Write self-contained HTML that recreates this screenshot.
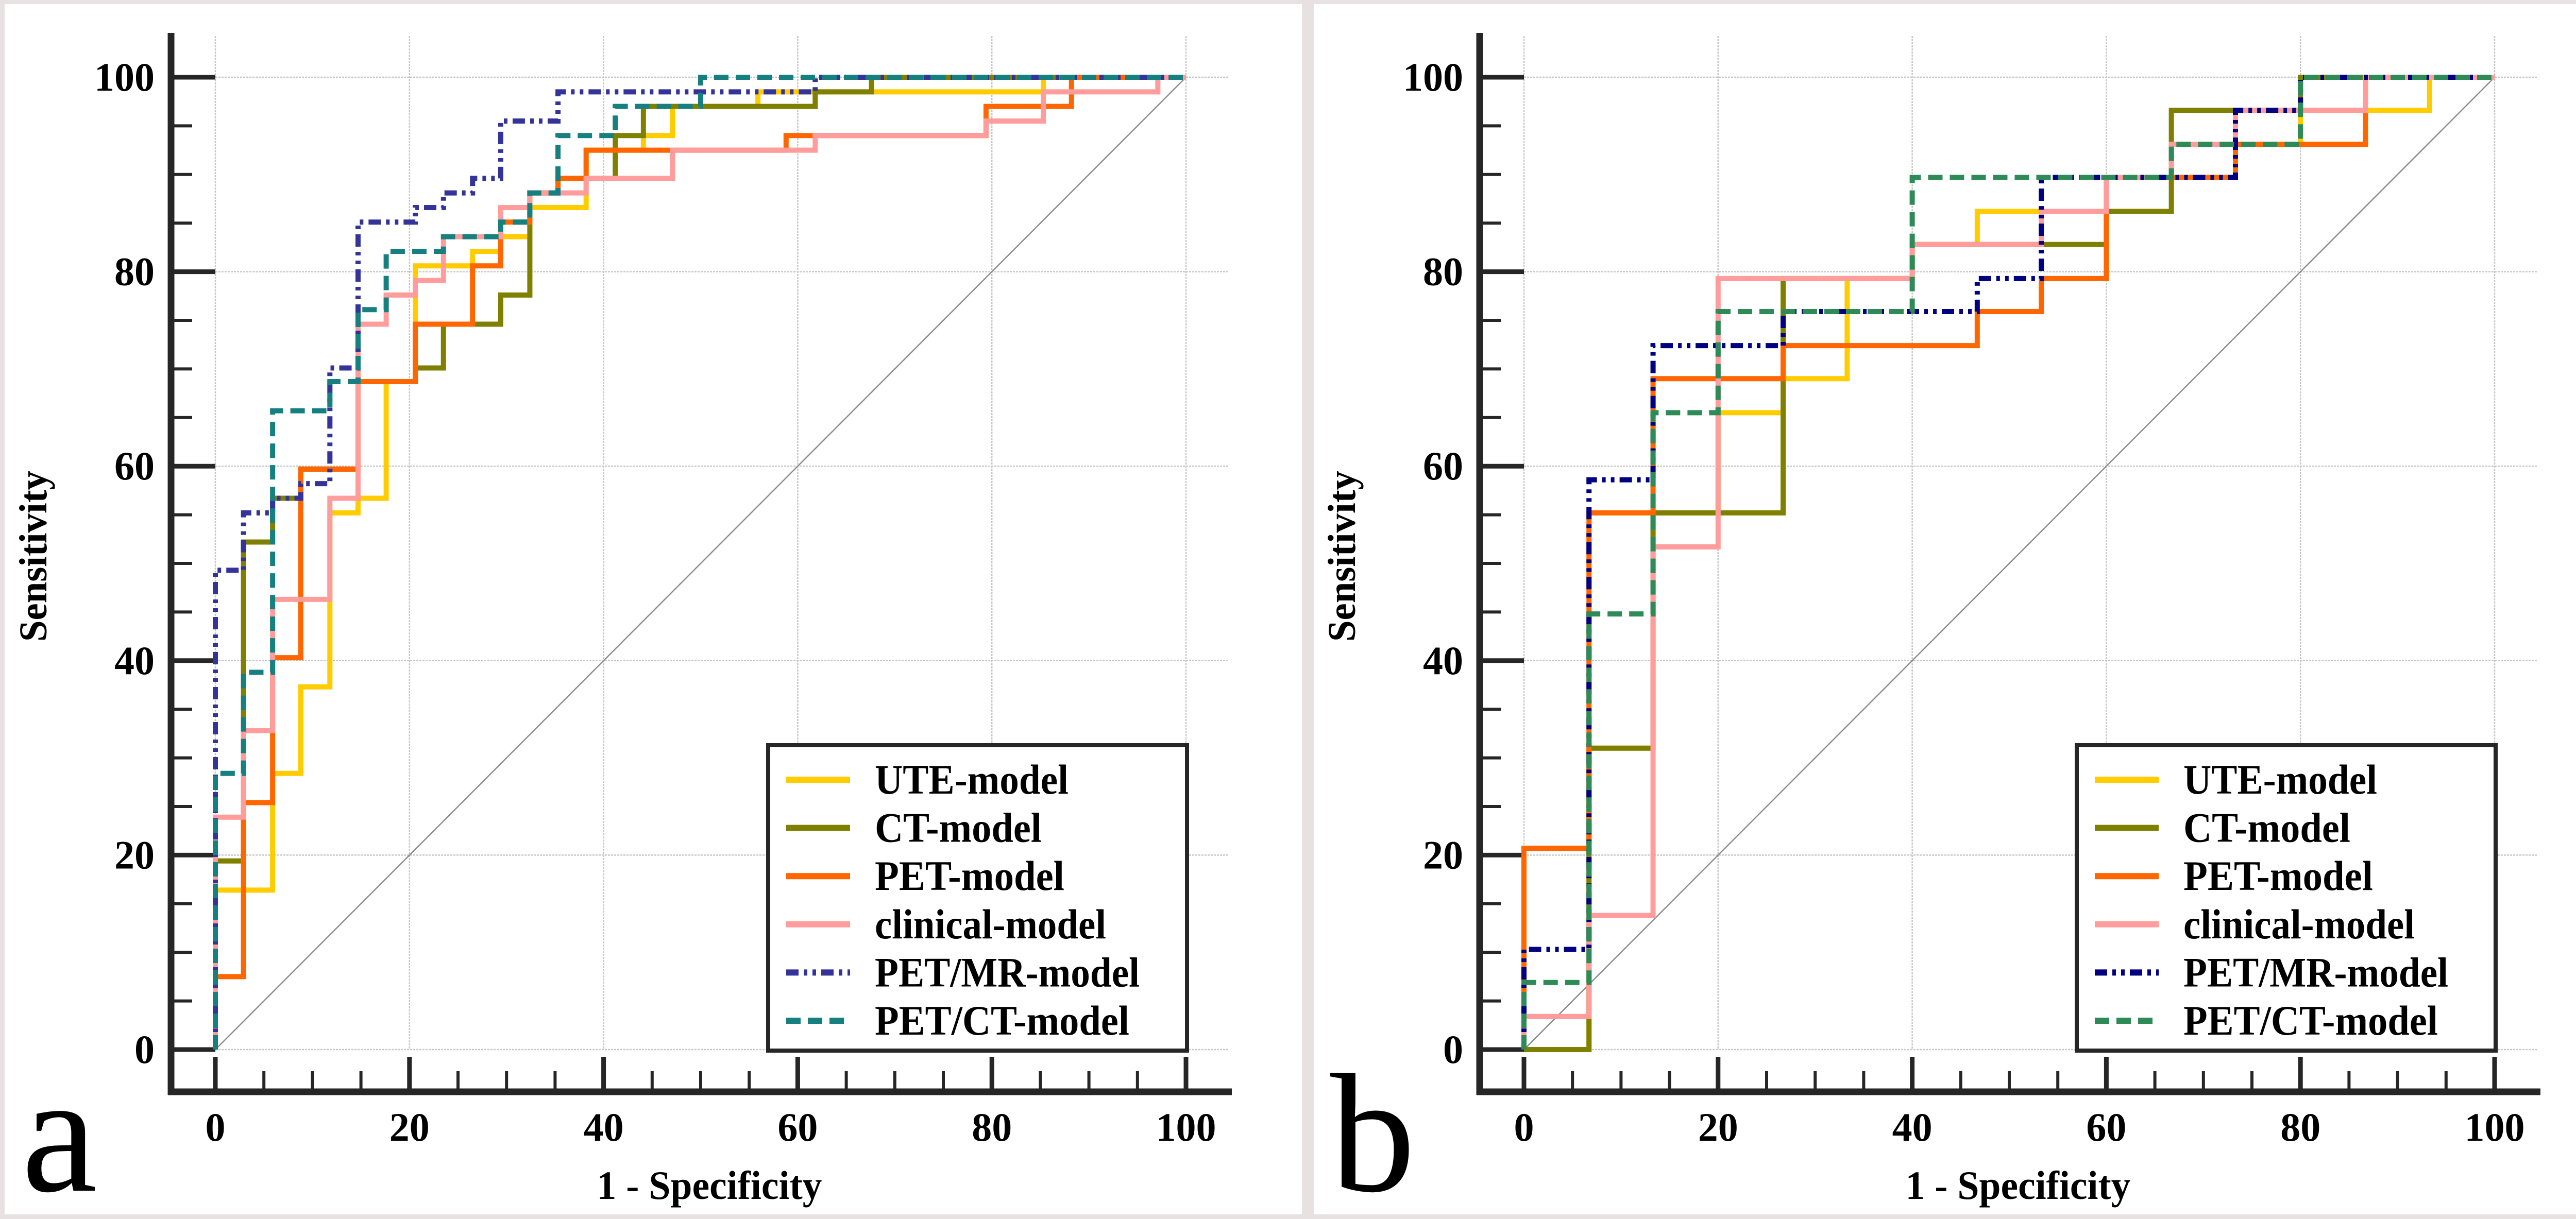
<!DOCTYPE html>
<html><head><meta charset="utf-8"><style>
html,body{margin:0;padding:0;background:#e8e1e2;overflow:hidden;}
svg{display:block;}
svg text{font-family:"Liberation Serif","Times New Roman","DejaVu Serif",serif !important;fill:#000;}
</style></head><body>
<svg id="fig" width="5084" height="2367" viewBox="0 0 5084 2367" xmlns="http://www.w3.org/2000/svg">
<rect x="0" y="0" width="5084" height="2367" fill="#e8e1e2"/>
<rect x="9" y="8" width="2518" height="2350" fill="#fff"/>
<rect x="2550" y="8" width="2526" height="2350" fill="#fff"/>
</svg>
<script>
// ---- Panel a data ----
const aUteF=[0,0,5.9,8.8,11.8,14.7,17.6,20.6,26.5,29.4,32.4,38.2,44.1,47.1,55.9,85.3,100];
const aUteT=[0,16.4,28.4,37.3,55.2,56.7,68.7,80.6,82.1,83.6,86.6,92.5,94,97,98.5,100,100];
const aCtF=[0,0,2.9,5.9,8.8,14.7,20.6,23.5,29.4,32.4,35.3,41.2,44.1,61.8,67.6,100];
const aCtT=[0,19.4,52.2,56.7,59.7,68.7,70.1,74.6,77.6,88.1,89.6,94,97,98.5,100,100];
const aPetF=[0,0,2.9,5.9,8.8,14.7,20.6,26.5,29.4,32.4,35.3,38.2,58.8,79.4,88.2,100];
const aPetT=[0,7.5,25.4,40.3,59.7,68.7,74.6,80.6,85.1,88.1,89.6,92.5,94,97,100,100];
const aCliF=[0,0,2.9,5.9,11.8,14.7,17.6,20.6,23.5,29.4,32.4,38.2,47.1,61.8,79.4,85.3,97.1,100];
const aCliT=[0,23.9,32.8,46.3,56.7,74.6,77.6,79.1,83.6,86.6,88.1,89.6,92.5,94,95.5,98.5,100,100];
const aMrF=[0,0,2.9,5.9,8.8,11.8,14.7,20.6,23.5,26.5,29.4,35.3,61.8,100];
const aMrT=[0,49.3,55.2,56.7,58.2,70.1,85.1,86.6,88.1,89.6,95.5,98.5,100,100];
const aPctF=[0,0,2.9,5.9,11.8,14.7,17.6,23.5,29.4,32.4,35.3,41.2,50,100];
const aPctT=[0,28.4,38.8,65.7,68.7,76.1,82.1,83.6,85.1,88.1,94,97,100,100];
// ---- Panel b data ----
const bUteF=[0,6.7,13.3,20,26.7,33.3,40,46.7,60,66.7,80,93.3,100];
const bUteT=[0,31,55.2,65.5,69,79.3,82.8,86.2,89.7,93.1,96.6,100,100];
const bCtF=[0,6.7,13.3,26.7,40,60,66.7,80,100];
const bCtT=[0,31,55.2,79.3,82.8,86.2,96.6,100,100];
const bPetF=[0,0,6.7,13.3,26.7,46.7,53.3,60,73.3,86.7,100];
const bPetT=[0,20.7,55.2,69,72.4,75.9,79.3,89.7,93.1,100,100];
const bCliF=[0,0,6.7,13.3,20,40,53.3,60,66.7,73.3,86.7,100];
const bCliT=[0,3.4,13.8,51.7,79.3,82.8,86.2,89.7,93.1,96.6,100,100];
const bMrF=[0,0,6.7,13.3,26.7,46.7,53.3,73.3,80,100];
const bMrT=[0,10.3,58.6,72.4,75.9,79.3,89.7,96.6,100,100];
const bPctF=[0,0,6.7,13.3,20,40,66.7,80,100];
const bPctT=[0,6.9,44.8,65.5,75.9,89.7,93.1,100,100];
// ---- shared labels ----
const tickLabels=["0","20","40","60","80","100"];
const tickValues=[0,20,40,60,80,100];
const legendNames=["UTE-model","CT-model","PET-model","clinical-model","PET/MR-model","PET/CT-model"];
const legendTextWidths=[376,324,368,449,514,494];

const NS="http://www.w3.org/2000/svg";
const svg=document.getElementById('fig');
const FF='font-family:"Liberation Serif","Times New Roman",serif;';
function el(tag,attrs,parent){const e=document.createElementNS(NS,tag);for(const k in attrs)e.setAttribute(k,attrs[k]);(parent||svg).appendChild(e);return e;}

function panel(ox,letter,series,styles){
  const g=el('g',{});
  
  
  const X=v=>ox+418+v*(2302-418)/100;
  const Y=v=>2038-v*(2038-150)/100;
  for(const v of tickValues){
    const gx=el('line',{x1:X(v),x2:X(v),y1:70,y2:2038,stroke:'#c6c6c6','stroke-width':2.5,'stroke-dasharray':'4 2'},g);
    
    
    const gy=el('line',{x1:X(0),x2:ox+2386,y1:Y(v),y2:Y(v),stroke:'#c6c6c6','stroke-width':2.5,'stroke-dasharray':'4 2'},g);
    
    
  }
  const d=el('line',{x1:X(0),y1:Y(0),x2:X(100),y2:Y(100),stroke:'#8a8a8a','stroke-width':2.5},g);
  
  
  const ax=el('line',{x1:ox+332,x2:ox+332,y1:64,y2:2126,stroke:'#262626','stroke-width':13},g);
  
  
  const bx=el('line',{x1:ox+326,x2:ox+2391,y1:2120,y2:2120,stroke:'#262626','stroke-width':13},g);
  
  
  for(let v=0;v<=100;v+=5){
    const major=v%20===0;
    const ty=el('line',{x1:ox+332,x2:major?X(0):ox+373,y1:Y(v),y2:Y(v),stroke:'#262626','stroke-width':major?9:6},g);
    
    
    const tx=el('line',{x1:X(v),x2:X(v),y1:2120,y2:major?2052:2080,stroke:'#262626','stroke-width':major?9:6},g);
    
    
  }
  tickLabels.forEach((s,i)=>{
    const t=el('text',{x:ox+300,y:Y(tickValues[i])+26,'text-anchor':'end',style:FF+'font-size:78px;font-weight:bold'},g);t.textContent=s;
    
    
    const u=el('text',{x:X(tickValues[i]),y:2215,'text-anchor':'middle',style:FF+'font-size:78px;font-weight:bold'},g);u.textContent=s;
    
    
  });
  const yt=el('text',{x:0,y:0,'text-anchor':'middle',transform:`translate(${ox+90},1080) rotate(-90)`,textLength:332,lengthAdjust:'spacingAndGlyphs',style:FF+'font-size:76px;font-weight:bold'},g);
  yt.textContent='Sensitivity';
  
  
  const xt=el('text',{x:ox+1377,y:2328,'text-anchor':'middle',textLength:437,lengthAdjust:'spacingAndGlyphs',style:FF+'font-size:78px;font-weight:bold'},g);
  xt.textContent='1 - Specificity';
  
  
  const pl=el('text',{x:ox+42,y:2312,style:FF+'font-size:330px;font-weight:normal'},g);
  pl.textContent=letter;
  
  
  series.forEach((s,i)=>{
    const [F,T]=s;let p=`M${X(F[0])},${Y(T[0])}`;
    for(let k=1;k<F.length;k++){p+=` L${X(F[k])},${Y(T[k-1])} L${X(F[k])},${Y(T[k])}`;}
    const st=styles[i];
    const path=el('path',{d:p,fill:'none',stroke:st.c,'stroke-width':10,'stroke-dasharray':st.dash||'none'},g);
    
    
  });
  const lg=el('g',{},g);
  
  
  el('rect',{x:ox+1491,y:1447,width:813,height:593,fill:'#fff',stroke:'#262626','stroke-width':8},lg);
  legendNames.forEach((n,i)=>{
    const yy=1514+i*93.6;const st=styles[i];
    const ln=el('line',{x1:ox+1526,x2:ox+1650,y1:yy,y2:yy,stroke:st.c,'stroke-width':12,'stroke-dasharray':st.dash||'none'},lg);
    
    
    const t=el('text',{x:ox+1698,y:yy+27,textLength:legendTextWidths[i],lengthAdjust:'spacingAndGlyphs',style:FF+'font-size:82px;font-weight:bold'},lg);t.textContent=n;
    
    
  });
}
const dd='24 10 7 10 7 10', ds='28 14';
panel(0,'a',[[aUteF,aUteT],[aCtF,aCtT],[aPetF,aPetT],[aCliF,aCliT],[aMrF,aMrT],[aPctF,aPctT]],
 [{c:'#ffcc00'},{c:'#808000'},{c:'#ff6600'},{c:'#ff9c9c'},{c:'#333399',dash:dd},{c:'#168080',dash:ds}]);
panel(2540,'b',[[bUteF,bUteT],[bCtF,bCtT],[bPetF,bPetT],[bCliF,bCliT],[bMrF,bMrT],[bPctF,bPctT]],
 [{c:'#ffcc00'},{c:'#808000'},{c:'#ff6600'},{c:'#ff9c9c'},{c:'#000080',dash:dd},{c:'#2e8b57',dash:ds}]);
</script>
</body></html>
